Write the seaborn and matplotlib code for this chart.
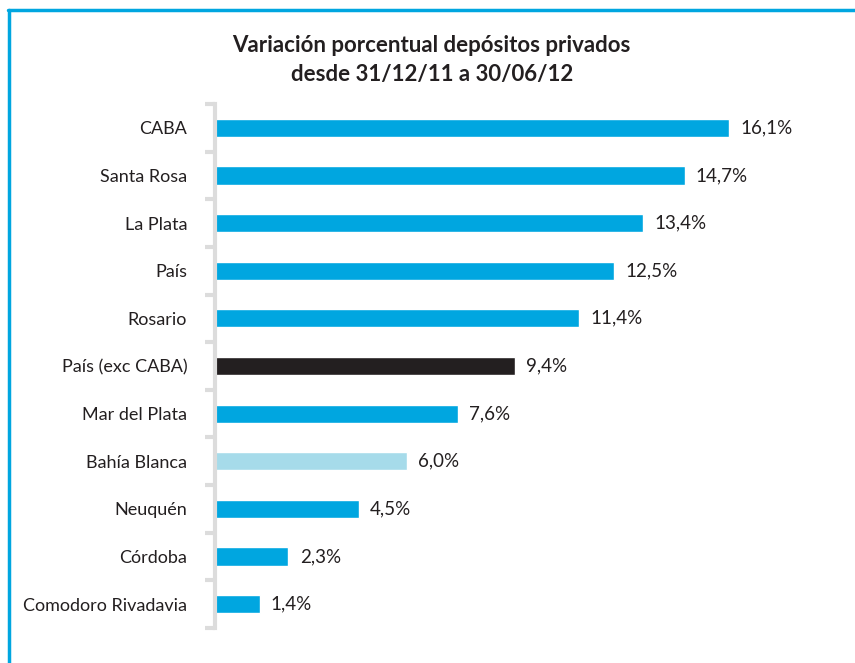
import matplotlib
matplotlib.use("Agg")
import matplotlib.pyplot as plt
import seaborn as sns
from matplotlib.lines import Line2D

sns.set_style("white")
plt.rcParams['font.family'] = ['Lato', 'DejaVu Sans']

# data
cities = ["CABA", "Santa Rosa", "La Plata", "País", "Rosario", "País (exc CABA)",
          "Mar del Plata", "Bahía Blanca", "Neuquén", "Córdoba", "Comodoro Rivadavia"]
values = [16.1, 14.7, 13.4, 12.5, 11.4, 9.4, 7.6, 6.0, 4.5, 2.3, 1.4]
bar_colors = ["#00a6e0"] * 5 + ["#231f20", "#00a6e0", "#a6dbea", "#00a6e0", "#00a6e0", "#00a6e0"]
title = "Variación porcentual depósitos privados\ndesde 31/12/11 a 30/06/12"

fig = plt.figure(figsize=(8.55, 6.63), dpi=100)
ax = fig.add_axes([215 / 855, 1 - 628 / 663, 591 / 855, 524 / 663])

sns.barplot(x=values, y=cities, hue=cities, palette=bar_colors, legend=False,
            orient="h", width=0.38, saturation=1, ax=ax)

for i, v in enumerate(values):
    ax.text(v + 0.35, i, f"{v:.1f}%".replace(".", ","), va="center", ha="left",
            fontsize=13.5, color="#231f20")

ax.set_xlim(0, 18.5)
ax.set_ylim(10.5, -0.5)
ax.set_xticks([])
ax.set_xlabel("")
ax.set_ylabel("")
ax.tick_params(axis="y", which="major", left=False, length=0, pad=20,
               labelsize=13, labelcolor="#231f20")
ax.set_yticks([i - 0.5 for i in range(12)], minor=True)
ax.tick_params(axis="y", which="minor", left=True, length=7, width=3, color="#dcdcdc")
for s in ["top", "right", "bottom"]:
    ax.spines[s].set_visible(False)
ax.spines["left"].set_color("#dcdcdc")
ax.spines["left"].set_linewidth(3)

fig.text(0.505, 1 - 60 / 663, title, ha="center", va="center", fontsize=16,
         fontweight="bold", color="#231f20", linespacing=1.45)

# blue frame (left and top edges)
fig.add_artist(Line2D([9 / 855, 9 / 855], [0, 1 - 10 / 663], transform=fig.transFigure,
                      color="#00a6e0", lw=2.5))
fig.add_artist(Line2D([8 / 855, 1], [1 - 10 / 663, 1 - 10 / 663], transform=fig.transFigure,
                      color="#00a6e0", lw=2.5))

fig.savefig("out.png", dpi=100)
